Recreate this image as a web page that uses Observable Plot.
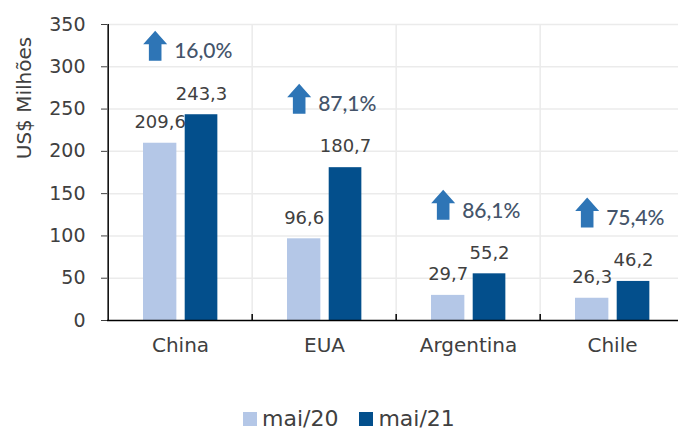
<!DOCTYPE html>
<html>
<head>
<meta charset="utf-8">
<script src="https://cdn.jsdelivr.net/npm/d3@7"></script>
<script src="https://cdn.jsdelivr.net/npm/@observablehq/plot@0.6"></script>
<style>
  body { margin: 0; background: #fff; font-family: "DejaVu Sans", sans-serif; }
  #wrap { position: relative; width: 678px; height: 430px; }
  #ytitle { position: absolute; left: 24px; top: 98px; transform: translate(-50%, -50%) rotate(-90deg); white-space: nowrap; font-size: 20px; color: #404040; }
  #legend { display: flex; align-items: center; margin-left: 243px; margin-top: 36px; font-size: 22px; color: #404040; }
  #legend .sw { width: 14px; height: 14px; display: inline-block; margin-right: 5px; }
  #legend .item { display: flex; align-items: center; margin-right: 21px; }
</style>
</head>
<body>
<div id="wrap">
<div id="chart"></div>
<div id="legend"></div>
<div id="ytitle"></div>
</div>
<script>
const countries = ["China", "EUA", "Argentina", "Chile"];
const mai20 = [209.6, 96.6, 29.7, 26.3];
const mai21 = [243.3, 180.7, 55.2, 46.2];
const growthLabels = ["16,0%", "87,1%", "86,1%", "75,4%"];
const seriesNames = ["mai/20", "mai/21"];
const seriesColors = ["#B4C7E7", "#034F8C"];
const yTicks = [0, 50, 100, 150, 200, 250, 300, 350];
const yTitle = "US$ Milhões";

const W = 678, ML = 107, MR = -7.6;
const bw = (W - ML - MR) / countries.length;
const fmt = v => d3.format(".1f")(v).replace(".", ",");

const rows = countries.map((c, i) => ({
  country: c, a: mai20[i], b: mai21[i], g: growthLabels[i], max: Math.max(mai20[i], mai21[i])
}));

// bar geometry within each category band
const b1L = 35, b1R = 69, b2L = 76.7, b2R = 110;
const c1 = (b1L + b1R) / 2 - bw / 2, c2 = (b2L + b2R) / 2 - bw / 2;

const arrowSymbol = {
  draw(ctx, size) {
    const r = Math.sqrt(size / Math.PI);
    ctx.moveTo(0, -r);
    ctx.lineTo(0.8 * r, -0.1 * r);
    ctx.lineTo(0.42 * r, -0.1 * r);
    ctx.lineTo(0.42 * r, r);
    ctx.lineTo(-0.42 * r, r);
    ctx.lineTo(-0.42 * r, -0.1 * r);
    ctx.lineTo(-0.8 * r, -0.1 * r);
    ctx.closePath();
  }
};

const gridColor = "#EBEBEB";
const textColor = "#404040";
const ff = "'DejaVu Sans', sans-serif";

const chart = Plot.plot({
  width: W,
  height: 370,
  marginLeft: ML,
  marginRight: MR,
  marginTop: 24,
  marginBottom: 50,
  style: { fontFamily: ff, fontSize: "19px", color: textColor, background: "white", overflow: "visible" },
  x: { domain: countries, padding: 0, tickSize: 0, tickPadding: 17, label: null },
  y: { domain: [0, 350], ticks: yTicks, tickSize: 6, tickPadding: 16, label: null, tickFormat: d => d },
  marks: [
    Plot.ruleY(yTicks.slice(1), { stroke: gridColor, strokeWidth: 1.5 }),
    Plot.ruleX(countries.slice(1), { x: d => d, dx: -bw / 2, y1: 0, y2: 350, stroke: gridColor, strokeWidth: 1.5 }),
    Plot.barY(rows, { x: "country", y: "a", fill: seriesColors[0], insetLeft: b1L, insetRight: bw - b1R }),
    Plot.barY(rows, { x: "country", y: "b", fill: seriesColors[1], insetLeft: b2L, insetRight: bw - b2R }),
    Plot.ruleY([0], { stroke: "#000", strokeWidth: 1.5 }),
    Plot.ruleX([countries[0]], { x: d => d, dx: -bw / 2, y1: 0, y2: 350, stroke: "#000", strokeWidth: 1.5 }),
    Plot.ruleX(countries.slice(1), { x: d => d, dx: -bw / 2, y1: 0, y2: 7, stroke: "#000", strokeWidth: 1.5 }),
    Plot.text(rows, { x: "country", y: "a", text: d => fmt(d.a), dx: c1, dy: -21, fontSize: 18, fill: textColor }),
    Plot.text(rows, { x: "country", y: "b", text: d => fmt(d.b), dx: c2, dy: -21, fontSize: 18, fill: textColor }),
    Plot.dot(rows, { x: "country", y: "max", r: 15, symbol: arrowSymbol, fill: "#2E75B6", dx: c1 - 5, dy: -69 }),
    Plot.text(rows, { x: "country", y: "max", text: "g", dx: c1 + 14, dy: -63, textAnchor: "start", fontSize: 21, fill: "#44546A", fontWeight: 500, fontFamily: "Lato, sans-serif" })
  ]
});
document.getElementById("chart").appendChild(chart);
chart.querySelectorAll('g[aria-label="x-axis tick label"] text, g[aria-label="x-axis"] text').forEach(t => t.setAttribute("font-size", "20"));

document.getElementById("ytitle").textContent = yTitle;

const legend = document.getElementById("legend");
seriesNames.forEach((n, i) => {
  const item = document.createElement("span");
  item.className = "item";
  const sw = document.createElement("span");
  sw.className = "sw";
  sw.style.background = seriesColors[i];
  item.appendChild(sw);
  item.appendChild(document.createTextNode(n));
  legend.appendChild(item);
});
</script>
</body>
</html>
